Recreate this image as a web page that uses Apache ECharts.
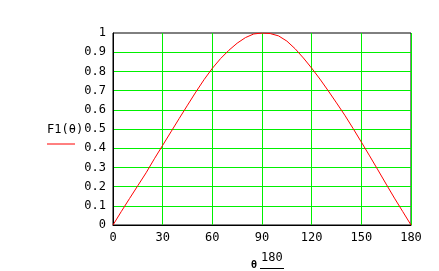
<!DOCTYPE html>
<html>
<head>
<meta charset="utf-8">
<script src="https://cdn.jsdelivr.net/npm/echarts@6/dist/echarts.min.js"></script>
<style>
  html, body { margin: 0; padding: 0; background: #fff; }
  #chart { width: 439px; height: 271px; }
</style>
</head>
<body>
<div id="chart"></div>
<script>
// angle in degrees (theta * 180 / pi)
var angles = [0, 5, 10, 15, 20, 25, 30, 35, 40, 45, 50, 55, 60, 65, 70, 75, 80, 85, 90,
  95, 100, 105, 110, 115, 120, 125, 130, 135, 140, 145, 150, 155, 160, 165, 170, 175, 180];
// F1(theta)
var f1 = [0, 0.07, 0.138, 0.205, 0.272, 0.345, 0.415, 0.485, 0.555, 0.624, 0.692, 0.757, 0.816,
  0.867, 0.91, 0.947, 0.976, 0.995, 1, 0.997, 0.985, 0.958, 0.918, 0.87, 0.817, 0.76, 0.699,
  0.636, 0.572, 0.503, 0.432, 0.36, 0.287, 0.213, 0.14, 0.07, 0];

var xTicks = [0, 30, 60, 90, 120, 150, 180];
var yTicks = [0, 0.1, 0.2, 0.3, 0.4, 0.5, 0.6, 0.7, 0.8, 0.9, 1];

var mydata = [];
for (var i = 0; i < angles.length; i++) {
  mydata.push([angles[i], f1[i]]);
}

var font = 'DejaVu Sans Mono';

var option = {
  animation: false,
  grid: {
    left: 113, right: 28, top: 33, bottom: 46,
    show: true, borderColor: '#000', borderWidth: 1, backgroundColor: '#fff'
  },
  xAxis: {
    type: 'value',
    min: xTicks[0],
    max: xTicks[xTicks.length - 1],
    interval: 30,
    axisLine: { show: true, lineStyle: { color: '#000', width: 1 } },
    axisTick: { show: false },
    axisLabel: { color: '#000', fontFamily: font, fontSize: 12, margin: 7 },
    splitLine: { show: true, showMinLine: false, showMaxLine: true, lineStyle: { color: '#00f000', width: 1 } }
  },
  yAxis: {
    type: 'value',
    min: yTicks[0],
    max: yTicks[yTicks.length - 1],
    interval: 0.1,
    axisLine: { show: true, lineStyle: { color: '#000', width: 1 } },
    axisTick: { show: false },
    axisLabel: { color: '#000', fontFamily: font, fontSize: 12, margin: 7 },
    splitLine: { show: true, showMinLine: false, showMaxLine: false, lineStyle: { color: '#00f000', width: 1 } }
  },
  series: [{
    type: 'line',
    data: mydata,
    showSymbol: false,
    smooth: false,
    lineStyle: { color: '#ff0000', width: 1 },
    z: 5
  }],
  graphic: [
    { type: 'text', left: 47, top: 124, style: { text: 'F1(θ)', fill: '#000', font: '12px ' + font } },
    { type: 'line', shape: { x1: 47, y1: 144, x2: 75, y2: 144 }, style: { stroke: '#ff0000', lineWidth: 1 } },
    { type: 'text', left: 251, top: 260, style: { text: 'θ', fill: '#000', font: 'bold 10px ' + font } },
    { type: 'text', left: 261, top: 252, style: { text: '180', fill: '#000', font: '12px ' + font } },
    { type: 'line', shape: { x1: 260, y1: 268.5, x2: 284, y2: 268.5 }, style: { stroke: '#000', lineWidth: 1 } }
  ]
};

var myChart = echarts.init(document.getElementById('chart'));
myChart.setOption(option);
</script>
</body>
</html>
